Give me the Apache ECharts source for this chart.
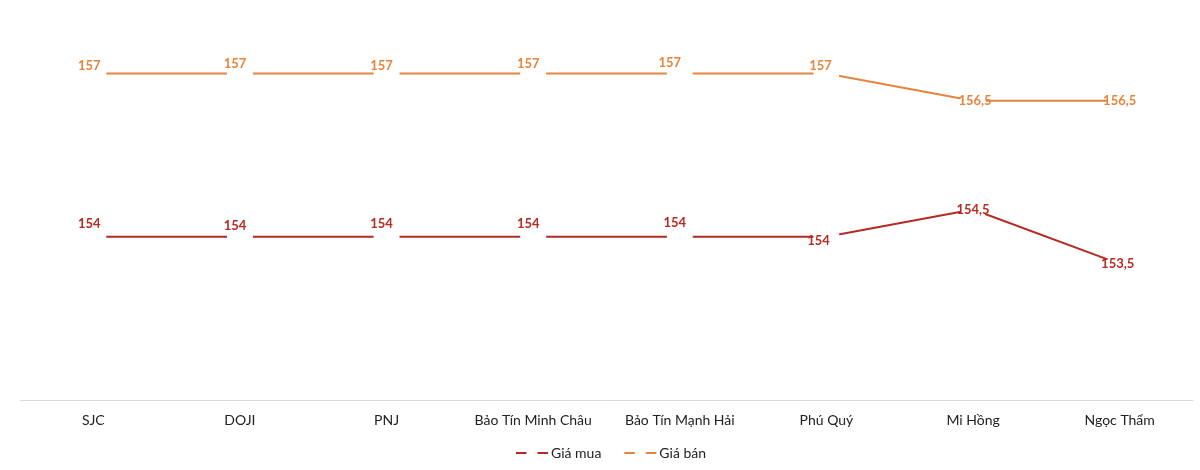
<!DOCTYPE html>
<html>
<head>
<meta charset="utf-8">
<script src="https://cdn.jsdelivr.net/npm/echarts@6/dist/echarts.min.js"></script>
<style>
  html, body { margin: 0; padding: 0; background: #fff; }
  #chart { width: 1200px; height: 470px; }
</style>
</head>
<body>
<div id="chart"></div>
<script>
// du lieu
const categories = ["SJC", "DOJI", "PNJ", "Bảo Tín Minh Châu", "Bảo Tín Mạnh Hải", "Phú Quý", "Mi Hồng", "Ngọc Thẩm"];
const giaMua = [154, 154, 154, 154, 154, 154, 154.5, 153.5];
const giaBan = [157, 157, 157, 157, 157, 157, 156.5, 156.5];

// vi tri nhan (offset so voi diem)
const muaOffsets = [[-4, -13], [-5, -11], [-5, -13], [-5, -13], [-5, -14], [-8, 4], [0, 0], [-2, 0]];
const banOffsets = [[-4, -8], [-5, -10], [-5, -8], [-5, -10], [-10, -11], [-6, -8], [2, 0], [0, 0]];

const RED = "#B52A22";
const ORANGE = "#E5843F";
const FONT = "Lato";

function fmt(v) {
  return String(v).replace(".", ",");
}

function buildData(values, offsets) {
  return values.map(function (v, i) {
    return {
      value: v,
      label: { offset: offsets[i] }
    };
  });
}

function makeSeries(name, values, offsets, color) {
  return {
    name: name,
    type: "line",
    data: buildData(values, offsets),
    symbol: "circle",
    symbolSize: 26,
    showAllSymbol: true,
    itemStyle: { color: "#fff", borderWidth: 0 },
    lineStyle: { color: color, width: 2 },
    emphasis: { disabled: true },
    label: {
      show: true,
      position: "inside",
      color: color,
      fontFamily: FONT,
      fontWeight: "bold",
      fontSize: 13,
      formatter: function (p) { return fmt(p.value); }
    },
    animation: false
  };
}

const chart = echarts.init(document.getElementById("chart"));
chart.setOption({
  backgroundColor: "#fff",
  textStyle: { fontFamily: FONT },
  grid: { left: 20, right: 7, top: 19, bottom: 70, containLabel: false },
  legend: {
    bottom: 5,
    left: 510,
    itemWidth: 32,
    itemHeight: 14,
    itemGap: 22,
    textStyle: { fontFamily: FONT, fontSize: 14, color: "#222", padding: [0, 0, 0, -2] },
    data: ["Giá mua", "Giá bán"]
  },
  xAxis: {
    type: "category",
    data: categories,
    boundaryGap: true,
    axisLine: { lineStyle: { color: "#d9d9d9", width: 1 } },
    axisTick: { show: false },
    axisLabel: { color: "#222", fontSize: 14, fontFamily: FONT, margin: 13, interval: 0 }
  },
  yAxis: {
    type: "value",
    min: 151,
    max: 158,
    show: false,
    splitLine: { show: false }
  },
  series: [
    makeSeries("Giá mua", giaMua, muaOffsets, RED),
    makeSeries("Giá bán", giaBan, banOffsets, ORANGE)
  ]
});
</script>
</body>
</html>
